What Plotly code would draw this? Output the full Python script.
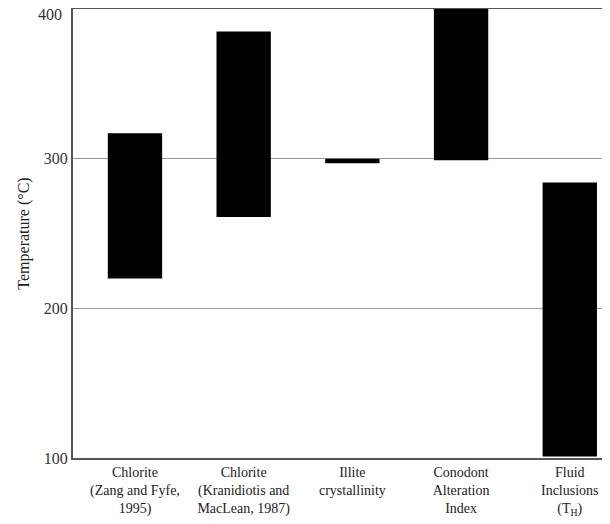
import plotly.graph_objects as go

categories = [
    "Chlorite<br>(Zang and Fyfe,<br>1995)",
    "Chlorite<br>(Kranidiotis and<br>MacLean, 1987)",
    "Illite<br>crystallinity",
    "Conodont<br>Alteration<br>Index",
    "Fluid<br>Inclusions<br>(T<sub>H</sub>)",
]
temp_low = [220, 261, 297, 299, 101]
temp_high = [317, 385, 300, 400, 284]
y_ticks = [100, 200, 300, 400]

heights = [h - l for h, l in zip(temp_high, temp_low)]

fig = go.Figure(
    go.Bar(
        x=list(range(len(categories))),
        y=heights,
        base=temp_low,
        width=0.5,
        marker=dict(color="black", line=dict(width=0)),
    )
)

font_family = "Liberation Serif, Times New Roman, serif"
tick_font = dict(family=font_family, size=16, color="#333")

# top tick label drawn as an annotation so it sits just below the top border
ticktext = [str(v) for v in y_ticks[:-1]] + [""]
fig.add_annotation(
    x=0, xref="paper", xanchor="right", xshift=-9,
    y=y_ticks[-1], yref="y", yanchor="middle", yshift=-5,
    text=str(y_ticks[-1]), showarrow=False, font=tick_font,
)

fig.update_layout(
    width=602,
    height=516,
    margin=dict(l=65, r=0, t=1, b=66),
    paper_bgcolor="white",
    plot_bgcolor="white",
    showlegend=False,
    font=dict(family=font_family, size=14, color="#222"),
    xaxis=dict(
        range=[-0.57, 4.37],
        tickmode="array",
        tickvals=list(range(len(categories))),
        ticktext=categories,
        showgrid=False,
        zeroline=False,
        showline=True,
        linecolor="#555",
        linewidth=2,
        mirror=True,
        ticks="",
        automargin=False,
        tickfont=dict(family=font_family, size=14, color="#222"),
        fixedrange=True,
    ),
    yaxis=dict(
        range=[100, 400],
        tickmode="array",
        tickvals=y_ticks,
        ticktext=ticktext,
        automargin=False,
        showgrid=True,
        gridcolor="#999",
        gridwidth=1,
        zeroline=False,
        showline=True,
        linecolor="#555",
        linewidth=2,
        ticks="",
        tickfont=tick_font,
        title=dict(text="Temperature (°C)", font=dict(family=font_family, size=16, color="#222"), standoff=10),
        fixedrange=True,
    ),
)

fig.write_html("out.html", config={"displayModeBar": False})
